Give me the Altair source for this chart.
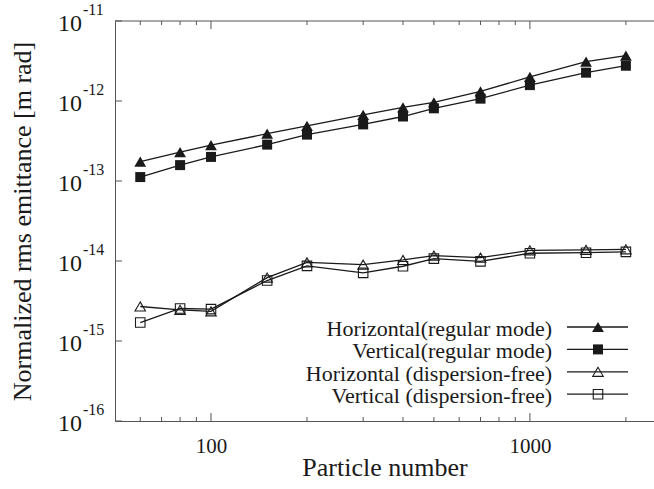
import altair as alt
import pandas as pd

# ---------------- data ----------------
particles = [60, 80, 100, 150, 200, 300, 400, 500, 700, 1000, 1500, 2000]
h_regular = [1.75e-13, 2.3e-13, 2.8e-13, 3.9e-13, 4.9e-13, 6.7e-13, 8.3e-13, 9.6e-13, 1.32e-12, 2.0e-12, 3.1e-12, 3.7e-12]
v_regular = [1.12e-13, 1.58e-13, 2.0e-13, 2.85e-13, 3.8e-13, 5.1e-13, 6.4e-13, 8.1e-13, 1.07e-12, 1.58e-12, 2.26e-12, 2.76e-12]
h_free = [2.7e-15, 2.45e-15, 2.35e-15, 6.2e-15, 9.6e-15, 9.0e-15, 1.03e-14, 1.17e-14, 1.1e-14, 1.36e-14, 1.38e-14, 1.4e-14]
v_free = [1.7e-15, 2.55e-15, 2.5e-15, 5.7e-15, 8.7e-15, 7.1e-15, 8.6e-15, 1.07e-14, 9.9e-15, 1.25e-14, 1.27e-14, 1.3e-14]

series_names = ["Horizontal(regular mode)", "Vertical(regular mode)",
                "Horizontal (dispersion-free)", "Vertical (dispersion-free)"]
series_values = [h_regular, v_regular, h_free, v_free]

x_major = [100, 1000]
x_minor = [60, 70, 80, 90, 200, 300, 400, 500, 600, 700, 800, 900, 2000]
y_decades = [1e-16, 1e-15, 1e-14, 1e-13, 1e-12, 1e-11]
y_exponents = ["-16", "-15", "-14", "-13", "-12", "-11"]

# ---------------- style ----------------
W, H = 539, 400
FONT = "'Liberation Serif', 'Times New Roman', 'DejaVu Serif', serif"
INK = "#1a1a1a"
AX = "#555555"
styles = [  # shape, filled, size
    ("triangle-up", True, 140),
    ("square", True, 100),
    ("triangle-up", False, 110),
    ("square", False, 90),
]

rows = []
for name, vals in zip(series_names, series_values):
    for p, v in zip(particles, vals):
        rows.append({"series": name, "particles": p, "emittance": v})
df = pd.DataFrame(rows)

xscale = alt.Scale(type="log", domain=[50, 2450], nice=False)
yscale = alt.Scale(type="log", domain=[1e-16, 1e-11], nice=False)

x_axis = alt.Axis(values=x_major, format="d", title="Particle number",
                  titleFont=FONT, titleFontSize=26, titleFontWeight="normal", titleColor=INK,
                  labelFont=FONT, labelFontSize=21, labelColor=INK, labelPadding=14,
                  titlePadding=-2, ticks=False, grid=False, domainColor=AX, domainWidth=1)
y_axis = alt.Axis(values=y_decades, labels=False, ticks=False, grid=False,
                  title="Normalized rms emittance [m rad]",
                  titleFont=FONT, titleFontSize=26, titleFontWeight="normal", titleColor=INK,
                  titlePadding=80, domainColor=AX, domainWidth=1)

X = alt.X("particles:Q", scale=xscale, axis=x_axis)
Y = alt.Y("emittance:Q", scale=yscale, axis=y_axis)

layers = []
for name, (shape, filled, size) in zip(series_names, styles):
    sub = alt.Chart(df).transform_filter(alt.datum.series == name)
    layers.append(sub.mark_line(color=INK, strokeWidth=1.3).encode(x=X, y=Y))
    layers.append(sub.mark_point(shape=shape, filled=filled, size=size, color=INK,
                                 strokeWidth=1.1, opacity=1).encode(x=X, y=Y))

# ---- ticks (inward) ----
tx_minor = pd.DataFrame({"particles": x_minor})
tx_major = pd.DataFrame({"particles": x_major})
for tdf, ln in [(tx_minor, 4), (tx_major, 8)]:
    layers.append(alt.Chart(tdf).mark_rule(color=AX, strokeWidth=1).encode(
        x=X, y=alt.value(H), y2=alt.value(H - ln)))
    layers.append(alt.Chart(tdf).mark_rule(color=AX, strokeWidth=1).encode(
        x=X, y=alt.value(0), y2=alt.value(ln)))

ty = pd.DataFrame({"emittance": y_decades, "exp": y_exponents})
layers.append(alt.Chart(ty).mark_rule(color=AX, strokeWidth=1).encode(
    y=Y, x=alt.value(0), x2=alt.value(7)))
# y tick labels 10^n
layers.append(alt.Chart(ty).mark_text(text="10", font=FONT, fontSize=24, color=INK,
                                      align="right", baseline="middle", dy=3).encode(
    y=Y, x=alt.value(-33)))
layers.append(alt.Chart(ty).mark_text(font=FONT, fontSize=16, color=INK,
                                      align="left", baseline="middle", dy=-11).encode(
    y=Y, x=alt.value(-32), text="exp:N"))

# top border
layers.append(alt.Chart(pd.DataFrame({"a": [0]})).mark_rule(color=AX, strokeWidth=1).encode(
    x=alt.value(0), x2=alt.value(W), y=alt.value(0)))

# ---- legend (inside, bottom right) ----
leg = pd.DataFrame({"series": series_names, "row": [0, 1, 2, 3]})
legbase = alt.Chart(leg).transform_calculate(ly="306 + 22.4 * datum.row")
LY = alt.Y("ly:Q", scale=None, axis=None)
layers.append(legbase.mark_text(font=FONT, fontSize=22, color=INK, align="right",
                                baseline="middle", dy=2).encode(
    x=alt.value(437), y=LY, text="series:N"))
layers.append(legbase.mark_rule(color=INK, strokeWidth=1.3).encode(
    x=alt.value(452), x2=alt.value(513), y=LY))
for name, (shape, filled, size) in zip(series_names, styles):
    layers.append(legbase.transform_filter(alt.datum.series == name).mark_point(
        shape=shape, filled=filled, size=size, color=INK, strokeWidth=1.1, opacity=1).encode(
        x=alt.value(483), y=LY))

chart = alt.layer(*layers).properties(
    width=W, height=H, autosize="none",
    padding={"left": 115, "top": 21, "right": 0, "bottom": 68},
    background="white",
).configure_view(stroke=None)

chart.save("out.html", embed_options={"renderer": "svg", "actions": False})
